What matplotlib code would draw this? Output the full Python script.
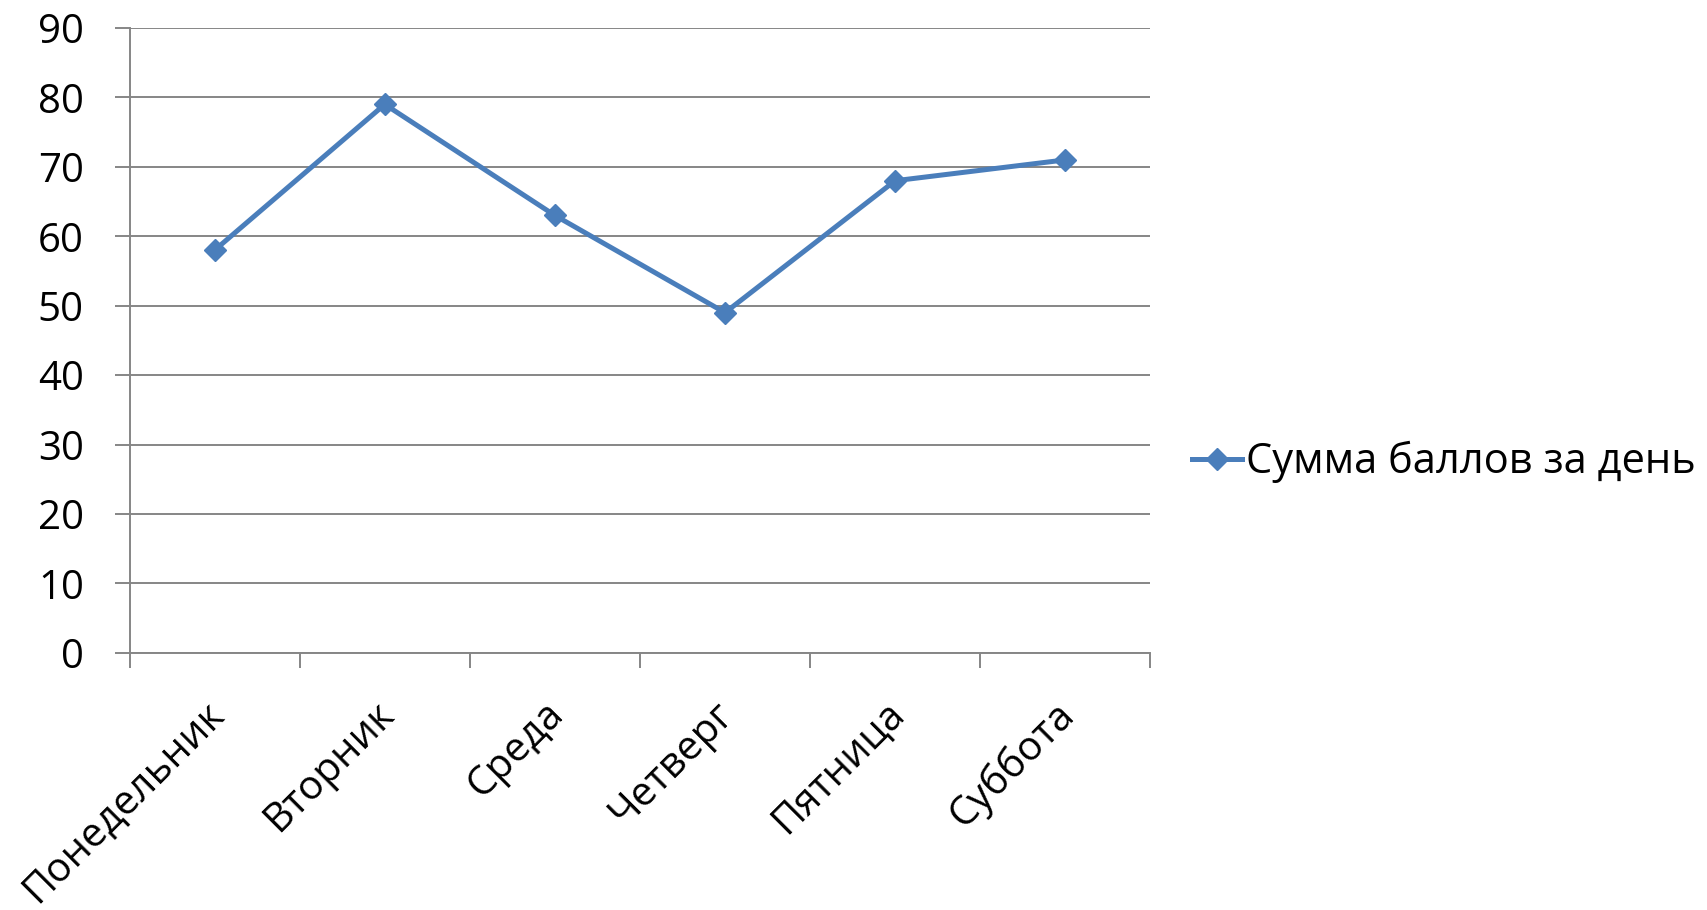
import matplotlib
matplotlib.use("Agg")
import matplotlib.pyplot as plt
from matplotlib.ticker import FixedLocator
import matplotlib.transforms as mtransforms

categories = ["Понедельник", "Вторник", "Среда", "Четверг", "Пятница", "Суббота"]
values = [58, 79, 63, 49, 68, 71]
series_name = "Сумма баллов за день"
yticks = [0, 10, 20, 30, 40, 50, 60, 70, 80, 90]

plt.rcParams['font.family'] = ['Open Sans', 'DejaVu Sans']

W, H = 1708, 910
fig = plt.figure(figsize=(W / 100, H / 100), dpi=100)
left, right, top, bottom = 129.6, 1150.3, 28.0, 652.8
ax = fig.add_axes([left / W, 1 - bottom / H, (right - left) / W, (bottom - top) / H])

grid_c = "#868686"
line_c = "#4A7EBB"

x = list(range(len(categories)))
ax.plot(x, values, color=line_c, lw=3.6, marker='D', ms=11.5, mec=line_c, mfc=line_c,
        label=series_name, zorder=3, clip_on=False)

ax.set_xlim(-0.5, len(categories) - 0.5)
ax.set_ylim(0, 90)
ax.set_yticks(yticks)
ax.yaxis.grid(True, color=grid_c, lw=1.4)
ax.set_axisbelow(True)

for s in ['top', 'right']:
    ax.spines[s].set_visible(False)
for s in ['left', 'bottom']:
    ax.spines[s].set_color(grid_c)
    ax.spines[s].set_linewidth(1.4)

ax.tick_params(axis='y', length=11, width=1.4, color=grid_c, labelsize=29, pad=22)
ax.set_xticks(x)
ax.set_xticklabels(categories, rotation=45, ha='right', va='center', rotation_mode='anchor', fontsize=29)
ax.tick_params(axis='x', which='major', length=0, pad=40)
ax.xaxis.set_minor_locator(FixedLocator([i - 0.5 for i in range(len(categories) + 1)]))
ax.tick_params(axis='x', which='minor', length=11, width=1.4, color=grid_c)

offset = mtransforms.ScaledTranslation(3 / 100, 0, fig.dpi_scale_trans)
for lbl in ax.get_xticklabels():
    lbl.set_transform(lbl.get_transform() + offset)

fig.legend(loc='center left', bbox_to_anchor=(1192 / W, 1 - 462 / H), frameon=False,
           fontsize=30, handlelength=1.2, handletextpad=0.1, borderaxespad=0, borderpad=0)

fig.savefig("out.png", dpi=100, facecolor='white')
